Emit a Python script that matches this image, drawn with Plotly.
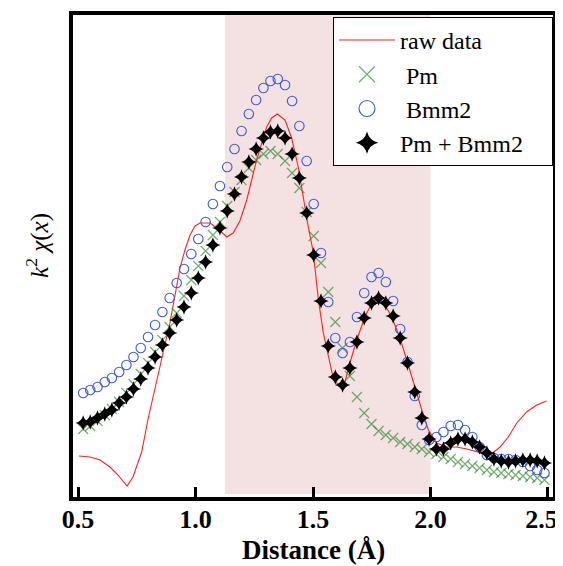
import plotly.graph_objects as go

# Distance grid (Å) of the fitted curves
r_fit = [0.522, 0.552, 0.583, 0.614, 0.644, 0.675, 0.706, 0.736, 0.767, 0.798,
         0.828, 0.859, 0.890, 0.920, 0.951, 0.982, 1.012, 1.043, 1.074, 1.104,
         1.135, 1.166, 1.196, 1.227, 1.258, 1.289, 1.319, 1.350, 1.381, 1.411,
         1.442, 1.473, 1.503, 1.534, 1.565, 1.595, 1.626, 1.657, 1.687, 1.718,
         1.749, 1.779, 1.810, 1.841, 1.871, 1.902, 1.933, 1.963, 1.994, 2.025,
         2.055, 2.086, 2.117, 2.147, 2.178, 2.209, 2.240, 2.270, 2.301, 2.332,
         2.362, 2.393, 2.424, 2.454, 2.485]

pm = [0.70, 0.73, 0.78, 0.84, 0.90, 0.97, 1.06, 1.15, 1.25, 1.36,
      1.47, 1.59, 1.72, 1.86, 2.03, 2.19, 2.33, 2.48, 2.64, 2.77,
      2.93, 3.07, 3.19, 3.31, 3.39, 3.45, 3.48, 3.45, 3.38, 3.26,
      3.11, 2.87, 2.63, 2.36, 2.07, 1.77, 1.51, 1.23, 1.02, 0.86,
      0.75, 0.68, 0.64, 0.61, 0.57, 0.55, 0.52, 0.50, 0.47, 0.45,
      0.42, 0.40, 0.37, 0.35, 0.33, 0.31, 0.29, 0.27, 0.26, 0.25,
      0.24, 0.23, 0.22, 0.21, 0.19]

bmm2 = [1.06, 1.09, 1.12, 1.17, 1.21, 1.27, 1.34, 1.42, 1.51, 1.62,
        1.74, 1.87, 2.01, 2.16, 2.30, 2.45, 2.60, 2.77, 2.95, 3.13,
        3.32, 3.50, 3.68, 3.85, 3.99, 4.11, 4.18, 4.20, 4.14, 3.98,
        3.73, 3.38, 2.95, 2.46, 1.97, 1.61, 1.46, 1.57, 1.82, 2.06,
        2.22, 2.26, 2.17, 1.98, 1.70, 1.37, 1.03, 0.74, 0.59, 0.62,
        0.67, 0.73, 0.74, 0.69, 0.62, 0.52, 0.44, 0.41, 0.40, 0.40,
        0.39, 0.37, 0.33, 0.29, 0.26]

pm_bmm2 = [0.76, 0.77, 0.81, 0.85, 0.89, 0.96, 1.02, 1.10, 1.20, 1.31,
           1.42, 1.54, 1.66, 1.79, 1.92, 2.06, 2.21, 2.37, 2.54, 2.71,
           2.88, 3.05, 3.22, 3.37, 3.50, 3.61, 3.67, 3.68, 3.61, 3.45,
           3.21, 2.86, 2.44, 1.98, 1.53, 1.22, 1.14, 1.31, 1.57, 1.81,
           1.96, 2.01, 1.96, 1.83, 1.61, 1.36, 1.07, 0.81, 0.60, 0.50,
           0.50, 0.56, 0.60, 0.60, 0.57, 0.52, 0.46, 0.40, 0.38, 0.37,
           0.38, 0.39, 0.39, 0.38, 0.36]

# Raw data curve
r_raw = [0.504, 0.551, 0.594, 0.636, 0.670, 0.709, 0.734, 0.771, 0.799, 0.835,
         0.863, 0.891, 0.913, 0.934, 0.955, 0.977, 0.998, 1.019, 1.062, 1.096,
         1.133, 1.160, 1.189, 1.218, 1.260, 1.303, 1.324, 1.348, 1.381, 1.409,
         1.437, 1.459, 1.480, 1.501, 1.523, 1.544, 1.565, 1.586, 1.608, 1.636,
         1.657, 1.686, 1.721, 1.750, 1.778, 1.806, 1.835, 1.870, 1.899, 1.927,
         1.963, 1.991, 2.026, 2.069, 2.111, 2.154, 2.197, 2.232, 2.260, 2.296,
         2.331, 2.367, 2.409, 2.452, 2.494]
raw = [0.43, 0.42, 0.39, 0.32, 0.24, 0.13, 0.22, 0.47, 0.81, 1.19,
       1.49, 1.76, 2.04, 2.31, 2.49, 2.64, 2.73, 2.76, 2.76, 2.70,
       2.62, 2.66, 2.78, 2.99, 3.39, 3.72, 3.81, 3.85, 3.79, 3.61,
       3.32, 2.99, 2.72, 2.47, 1.99, 1.66, 1.42, 1.21, 1.14, 1.17,
       1.36, 1.59, 1.82, 1.96, 2.01, 1.94, 1.82, 1.61, 1.39, 1.16,
       0.89, 0.69, 0.56, 0.52, 0.52, 0.50, 0.47, 0.45, 0.45, 0.52,
       0.62, 0.76, 0.87, 0.94, 0.98]

NB = "\u00a0"
PAD = "<span style='color:rgba(0,0,0,0)'>..</span>"
x_ticks = [0.5, 1.0, 1.5, 2.0, 2.5]
x_tick_labels = ["0.5", "1.0", "1.5", "2.0", "2.5" + PAD]
fit_window = [1.125, 2.0]

SERIF = "Liberation Serif"
RED = "#ff2020"
GREEN = "rgba(40,130,40,0.65)"
BLUE = "#3a5ae0"

fig = go.Figure()

fig.add_shape(type="rect", xref="x", yref="y",
              x0=fit_window[0], x1=fit_window[1], y0=0.05, y1=4.84,
              fillcolor="#f4e1e1", line=dict(width=0), layer="below")

fig.add_trace(go.Scatter(x=r_raw, y=raw, mode="lines", name="raw data",
                         line=dict(color=RED, width=1.1), showlegend=False))
fig.add_trace(go.Scatter(x=r_fit, y=pm, mode="markers", name="Pm", showlegend=False,
                         marker=dict(symbol="x-thin-open", size=10, color=GREEN,
                                     line=dict(color=GREEN, width=1.2))))
fig.add_trace(go.Scatter(x=r_fit, y=bmm2, mode="markers", name="Bmm2", showlegend=False,
                         marker=dict(symbol="circle-open", size=9.5, color=BLUE,
                                     line=dict(color=BLUE, width=1.1))))
fig.add_trace(go.Scatter(x=r_fit, y=pm_bmm2, mode="markers", name="Pm + Bmm2", showlegend=False,
                         marker=dict(symbol="star-diamond", size=11, color="black",
                                     line=dict(width=0))))

# legend entries (larger symbols, as in the original legend)
fig.add_trace(go.Scatter(x=[None], y=[None], mode="lines", name="raw data",
                         line=dict(color=RED, width=1.1)))
fig.add_trace(go.Scatter(x=[None], y=[None], mode="markers", name=NB + "Pm",
                         marker=dict(symbol="x-thin-open", size=18, color=GREEN,
                                     line=dict(color=GREEN, width=1.2))))
fig.add_trace(go.Scatter(x=[None], y=[None], mode="markers", name=NB + "Bmm2",
                         marker=dict(symbol="circle-open", size=18, color=BLUE,
                                     line=dict(color=BLUE, width=1.1))))
fig.add_trace(go.Scatter(x=[None], y=[None], mode="markers", name="Pm + Bmm2" + NB * 4,
                         marker=dict(symbol="star-diamond", size=18, color="black")))

fig.update_layout(
    width=563, height=558,
    margin=dict(l=65, r=18, t=7, b=69),
    paper_bgcolor="white", plot_bgcolor="white",
    font=dict(family=SERIF, color="black"),
    showlegend=True,
    legend=dict(x=1, xanchor="right", y=0.996, yanchor="top",
                bgcolor="white", bordercolor="black", borderwidth=1,
                font=dict(family=SERIF, size=24, color="black"),
                itemwidth=56, tracegroupgap=0),
    xaxis=dict(range=[0.4787, 2.5213], showgrid=False, zeroline=False,
               automargin=False,
               showline=True, linewidth=4, linecolor="black", mirror=True,
               ticks="inside", ticklen=10, tickwidth=3, tickcolor="black",
               tickvals=x_ticks, ticktext=x_tick_labels, ticklabelstandoff=-4,
               tickfont=dict(family=SERIF, size=26, color="black", weight="bold")),
    yaxis=dict(range=[0.02, 4.84], showgrid=False, zeroline=False,
               automargin=False,
               showline=True, linewidth=4, linecolor="black", mirror=True,
               ticks="", showticklabels=False),
    annotations=[
        dict(text="<i>k</i><sup>2</sup> <i>χ</i>(<i>x</i>)", textangle=-90,
             xref="paper", yref="paper", x=0, y=0.521,
             xanchor="center", yanchor="middle", xshift=-35,
             showarrow=False, font=dict(family=SERIF, size=25, color="black")),
        dict(text="<b>Distance (Å)</b>",
             xref="paper", yref="paper", x=0.5, y=0,
             xanchor="center", yanchor="middle", yshift=-53,
             showarrow=False, font=dict(family=SERIF, size=27, color="black")),
    ],
)

fig.write_html("out.html")
